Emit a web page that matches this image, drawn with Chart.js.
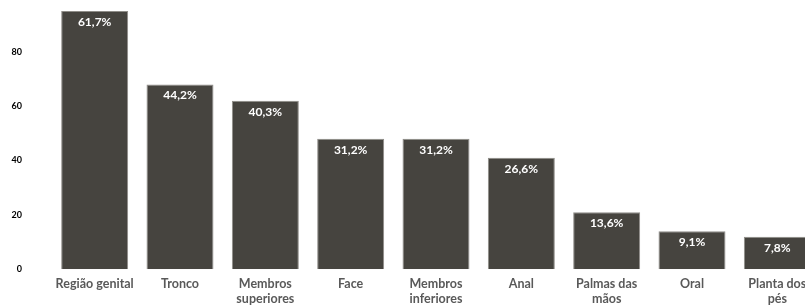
<!DOCTYPE html>
<html>
<head>
<meta charset="utf-8">
<script src="https://cdn.jsdelivr.net/npm/chart.js@4.4.1/dist/chart.umd.min.js"></script>
<style>
  html, body { margin: 0; padding: 0; background: #fff; overflow: hidden; }
  .wrap { position: absolute; left: 0; top: -30px; width: 820px; height: 336px; }
</style>
</head>
<body>
<div class="wrap"><canvas id="chart"></canvas></div>
<script>
  "use strict";

  const categories = [
    "Região genital",
    "Tronco",
    ["Membros", "superiores"],
    "Face",
    ["Membros", "inferiores"],
    "Anal",
    ["Palmas das", "mãos"],
    "Oral",
    ["Planta dos", "pés"],
  ];
  const counts = [95, 68, 62, 48, 48, 41, 21, 14, 12];
  const percentLabels = ["61,7%", "44,2%", "40,3%", "31,2%", "31,2%", "26,6%", "13,6%", "9,1%", "7,8%"];
  const yTicks = [0, 20, 40, 60, 80];

  const FONT = "Lato, 'Open Sans', sans-serif";

  // white percentage text inside the top of each bar
  const barLabels = {
    id: "barLabels",
    afterDatasetsDraw(chart) {
      const ctx = chart.ctx;
      const meta = chart.getDatasetMeta(0);
      ctx.save();
      ctx.fillStyle = "#ffffff";
      ctx.font = "bold 12px " + FONT;
      ctx.textAlign = "center";
      ctx.textBaseline = "middle";
      meta.data.forEach((bar, i) => {
        ctx.fillText(percentLabels[i], bar.x, bar.y + 11);
      });
      ctx.restore();
    },
  };

  const ctx = document.getElementById("chart").getContext("2d");
  new Chart(ctx, {
    type: "bar",
    data: {
      labels: categories,
      datasets: [
        {
          data: counts,
          backgroundColor: "#46443f",
          borderColor: "#8f8d88",
          borderWidth: 1,
          categoryPercentage: 1,
          barPercentage: 0.785,
        },
      ],
    },
    options: {
      responsive: true,
      maintainAspectRatio: false,
      animation: false,
      layout: { padding: 0 },
      plugins: {
        legend: { display: false },
        tooltip: { enabled: false },
      },
      scales: {
        x: {
          grid: { display: false },
          border: { display: false },
          ticks: {
            autoSkip: false,
            maxRotation: 0,
            minRotation: 0,
            padding: 0,
            color: "#595959",
            font: { family: FONT, size: 12.5, weight: "bold", lineHeight: 1.15 },
          },
        },
        y: {
          min: 0,
          max: 100,
          grid: { display: false },
          border: { display: false },
          afterBuildTicks(scale) {
            scale.ticks = yTicks.map((v) => ({ value: v }));
          },
          afterFit(scale) {
            scale.width = 52;
          },
          ticks: {
            padding: 22,
            color: "#000000",
            font: { family: FONT, size: 9, weight: "bold" },
          },
        },
      },
    },
    plugins: [barLabels],
  });
</script>
</body>
</html>
